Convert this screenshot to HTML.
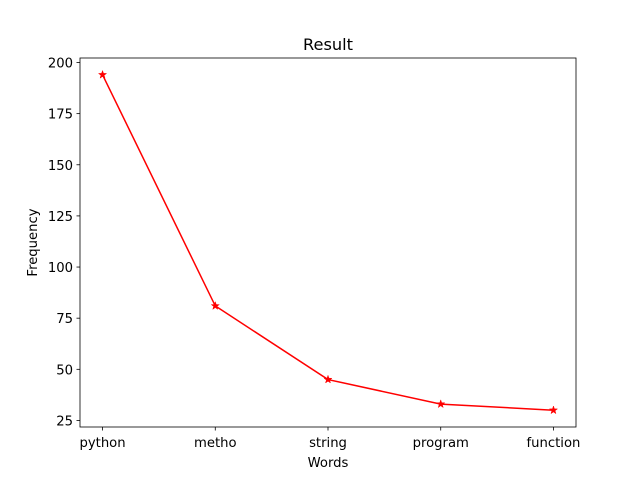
<!DOCTYPE html>
<html><head><meta charset="utf-8"><style>
body{margin:0;background:#fff;}
svg text{font-family:"DejaVu Sans","Liberation Sans",sans-serif;}
</style></head><body>
<svg id="chart" width="640" height="480" xmlns="http://www.w3.org/2000/svg">
<rect width="640" height="480" fill="#fff"/>
<text x="328" y="50" font-size="16.2" text-anchor="middle">Result</text>
<g id="plot"></g>
<rect x="80" y="58" width="496" height="369" fill="none" stroke="#000" stroke-width="0.8"/>
<text x="328" y="467" font-size="13.2" text-anchor="middle">Words</text>
<text transform="translate(37,242.5) rotate(-90)" font-size="13.2" text-anchor="middle">Frequency</text>
</svg>
<script>
const categories = ["python","metho","string","program","function"];
const values = [194,81,45,33,30];
const yTicks = [25,50,75,100,125,150,175,200];
const L=80,R=576,T=58,B=427;
const yMin=21.8,yMax=202.2;
function xs(i){return L+(i+0.2)/(categories.length-1+0.4)*(R-L);}
function ys(v){return B-(v-yMin)/(yMax-yMin)*(B-T);}
const NS="http://www.w3.org/2000/svg";
const g=document.getElementById('plot');
function mk(t,a){const e=document.createElementNS(NS,t);for(const k in a)e.setAttribute(k,a[k]);g.appendChild(e);return e;}
yTicks.forEach(v=>{
  const y=ys(v);
  const t=mk('line',{x1:L-3.5,x2:L,y1:y,y2:y,stroke:'#000','stroke-width':0.8});
  
  
  const tx=mk('text',{x:L-7,y:y+5,'font-size':13.2,'text-anchor':'end'});
  tx.textContent=v;
  
  
});
categories.forEach((c,i)=>{
  const x=xs(i);
  const t=mk('line',{x1:x,x2:x,y1:B,y2:B+3.5,stroke:'#000','stroke-width':0.8});
  
  
  const tx=mk('text',{x:x,y:B+20,'font-size':13.2,'text-anchor':'middle'});
  tx.textContent=c;
  
  
});
const pts=values.map((v,i)=>xs(i)+','+ys(v)).join(' ');
const line=mk('polyline',{points:pts,fill:'none',stroke:'#ff0000','stroke-width':1.5});


function star(cx,cy,r){let p=[];for(let k=0;k<10;k++){const a=-Math.PI/2+k*Math.PI/5;const rr=k%2?r*0.4:r;p.push((cx+rr*Math.cos(a)).toFixed(2)+','+(cy+rr*Math.sin(a)).toFixed(2));}return p.join(' ');}
values.forEach((v,i)=>{
  const m=mk('polygon',{points:star(xs(i),ys(v),4.2),fill:'#ff0000',stroke:'#ff0000','stroke-width':0.5});
  
  
});
</script>
</body></html>
